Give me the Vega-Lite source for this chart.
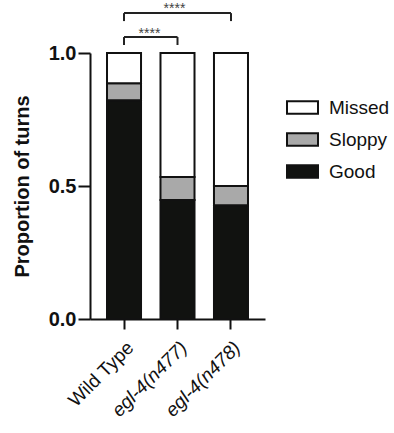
{
  "$schema": "https://vega.github.io/schema/vega-lite/v6.json",
  "autosize": {"type": "none"},
  "width": 175,
  "height": 266,
  "padding": {"left": 90, "top": 53, "right": 129, "bottom": 114},
  "background": "white",
  "config": {
    "view": {"stroke": null},
    "font": "Liberation Sans",
    "axis": {"domainColor": "#111", "tickColor": "#111", "labelColor": "#111", "titleColor": "#111", "domainWidth": 2, "tickWidth": 2, "grid": false}
  },
  "data": {
    "values": [
      {"genotype": "Wild Type", "category": "Good", "level": 1, "proportion": 0.822},
      {"genotype": "Wild Type", "category": "Sloppy", "level": 2, "proportion": 0.064},
      {"genotype": "Wild Type", "category": "Missed", "level": 3, "proportion": 0.114},
      {"genotype": "egl-4(n477)", "category": "Good", "level": 1, "proportion": 0.447},
      {"genotype": "egl-4(n477)", "category": "Sloppy", "level": 2, "proportion": 0.087},
      {"genotype": "egl-4(n477)", "category": "Missed", "level": 3, "proportion": 0.466},
      {"genotype": "egl-4(n478)", "category": "Good", "level": 1, "proportion": 0.428},
      {"genotype": "egl-4(n478)", "category": "Sloppy", "level": 2, "proportion": 0.072},
      {"genotype": "egl-4(n478)", "category": "Missed", "level": 3, "proportion": 0.5}
    ]
  },
  "layer": [
    {
      "mark": {"type": "bar", "stroke": "#111", "strokeWidth": 2},
      "encoding": {
        "x": {
          "field": "genotype", "type": "nominal",
          "sort": ["Wild Type", "egl-4(n477)", "egl-4(n478)"],
          "scale": {"paddingInner": 0.364, "paddingOuter": 0.318},
          "axis": {
            "title": null, "labelAngle": -45, "labelFontSize": 19, "tickSize": 10, "labelPadding": 9,
            "labelFontStyle": {"condition": {"test": "datum.value != 'Wild Type'", "value": "italic"}, "value": "normal"}
          }
        },
        "y": {
          "field": "proportion", "type": "quantitative", "stack": "zero",
          "scale": {"domain": [0, 1], "nice": false},
          "axis": {
            "title": "Proportion of turns", "titleFontSize": 20, "titleFontWeight": "bold", "titlePadding": 16,
            "values": [0, 0.5, 1], "format": ".1f", "labelFontSize": 20, "labelFontWeight": "bold",
            "tickSize": 12, "labelPadding": 2
          }
        },
        "order": {"field": "level", "type": "quantitative", "sort": "ascending"},
        "color": {
          "field": "category", "type": "nominal",
          "sort": ["Missed", "Sloppy", "Good"],
          "scale": {"domain": ["Missed", "Sloppy", "Good"], "range": ["#ffffff", "#a9a9a9", "#111210"]},
          "legend": {
            "title": null, "orient": "none", "legendX": 196, "legendY": 38,
            "symbolType": "M-1,-0.4H1V0.4H-1Z", "symbolSize": 961,
            "symbolStrokeColor": "#111", "symbolStrokeWidth": 2, "symbolOpacity": 1,
            "labelFontSize": 19, "labelOffset": 10, "labelColor": "#111", "rowPadding": 5
          }
        }
      }
    },
    {
      "data": {"values": [{}]},
      "mark": {"type": "rule", "strokeWidth": 2, "color": "#222", "clip": false},
      "encoding": {"x": {"datum": "Wild Type"}, "x2": {"datum": "egl-4(n478)"}, "y": {"datum": 1.15}}
    },
    {
      "data": {"values": [{}]},
      "mark": {"type": "rule", "strokeWidth": 2, "color": "#222", "clip": false},
      "encoding": {"x": {"datum": "Wild Type"}, "y": {"datum": 1.15}, "y2": {"datum": 1.12}}
    },
    {
      "data": {"values": [{}]},
      "mark": {"type": "rule", "strokeWidth": 2, "color": "#222", "clip": false},
      "encoding": {"x": {"datum": "egl-4(n478)"}, "y": {"datum": 1.15}, "y2": {"datum": 1.12}}
    },
    {
      "data": {"values": [{}]},
      "mark": {"type": "rule", "strokeWidth": 2, "color": "#222", "clip": false},
      "encoding": {"x": {"datum": "Wild Type"}, "x2": {"datum": "egl-4(n477)"}, "y": {"datum": 1.06}}
    },
    {
      "data": {"values": [{}]},
      "mark": {"type": "rule", "strokeWidth": 2, "color": "#222", "clip": false},
      "encoding": {"x": {"datum": "Wild Type"}, "y": {"datum": 1.06}, "y2": {"datum": 1.03}}
    },
    {
      "data": {"values": [{}]},
      "mark": {"type": "rule", "strokeWidth": 2, "color": "#222", "clip": false},
      "encoding": {"x": {"datum": "egl-4(n477)"}, "y": {"datum": 1.06}, "y2": {"datum": 1.03}}
    },
    {
      "data": {"values": [{"label": "****"}]},
      "mark": {"type": "text", "fontSize": 14, "color": "#444", "clip": false, "baseline": "middle", "dx": -3},
      "encoding": {"x": {"datum": "egl-4(n477)"}, "y": {"datum": 1.165}, "text": {"field": "label"}}
    },
    {
      "data": {"values": [{"label": "****"}]},
      "mark": {"type": "text", "fontSize": 14, "color": "#444", "clip": false, "baseline": "middle", "dx": -28},
      "encoding": {"x": {"datum": "egl-4(n477)"}, "y": {"datum": 1.072}, "text": {"field": "label"}}
    }
  ]
}
